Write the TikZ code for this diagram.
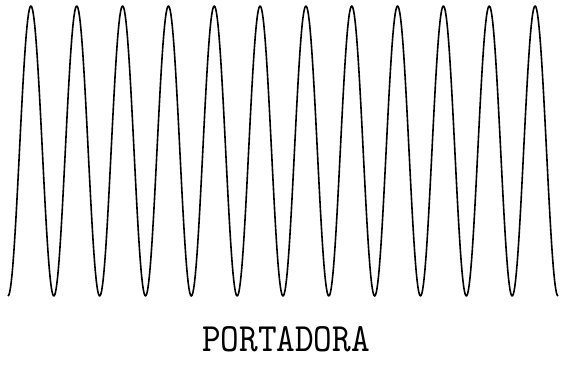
\documentclass[tikz,border=0pt]{standalone}
\usepackage{fontspec}
\begin{document}
\begin{tikzpicture}[x=1pt,y=-1pt,
  wave/.style={line width=1.6pt,black,line join=round},
  caption/.style={inner sep=0pt,font=\ttfamily}]
\useasboundingbox[fill=white] (0,0) rectangle (563,365);
\draw[wave] plot[domain=8:558,samples=700] (\x,{151+145*cos((\x-8)*7.85468)});
\node[caption] (label) at (286,339.5) {\resizebox{168pt}{25pt}{PORTADORA}};
\end{tikzpicture}
\end{document}
